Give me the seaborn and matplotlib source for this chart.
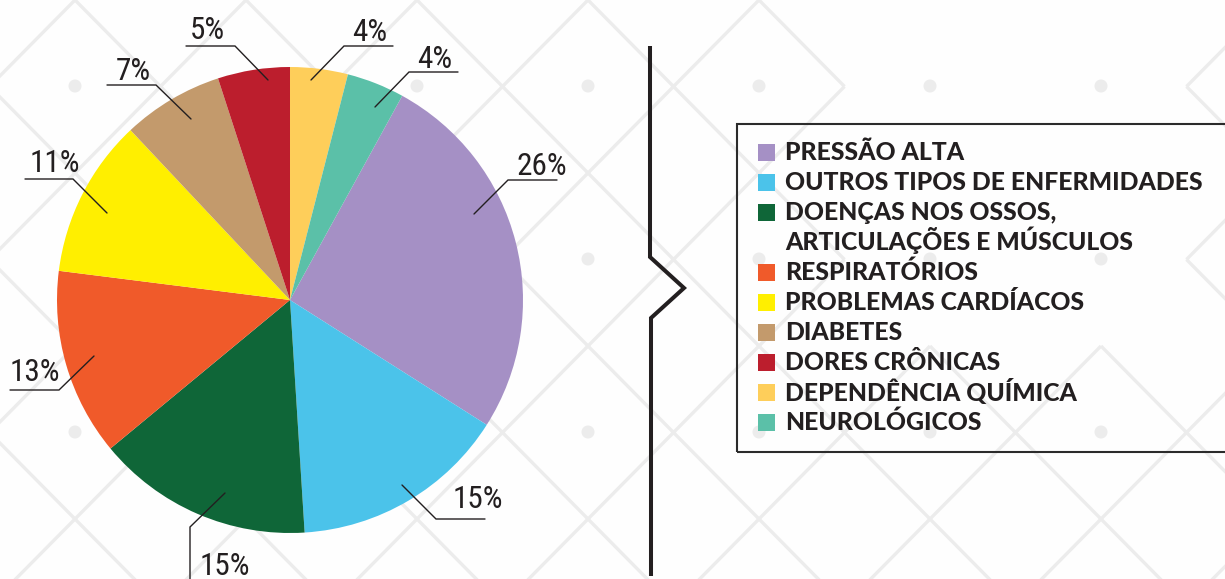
import matplotlib
matplotlib.use("Agg")
import matplotlib.pyplot as plt
from matplotlib.patches import Rectangle, Circle
from matplotlib.collections import LineCollection
import seaborn as sns

# -----------------------------
# Data (legend order)
# -----------------------------
categories = [
    "PRESSÃO ALTA",
    "OUTROS TIPOS DE ENFERMIDADES",
    "DOENÇAS NOS OSSOS,\nARTICULAÇÕES E MÚSCULOS",
    "RESPIRATÓRIOS",
    "PROBLEMAS CARDÍACOS",
    "DIABETES",
    "DORES CRÔNICAS",
    "DEPENDÊNCIA QUÍMICA",
    "NEUROLÓGICOS",
]
values = [26, 15, 15, 13, 11, 7, 5, 4, 4]
colors = ["#A590C5", "#4BC3EA", "#0F6638", "#F05A2A", "#FFEF00",
          "#C39A6C", "#BC1E2D", "#FECE5A", "#5BC0A8"]

# -----------------------------
# Layout (pixel coords, y from top)
# -----------------------------
W, H = 1225, 579
center = (290, 300)
radius = 233

# leader line: tip inside slice, elbow, end of line, text anchor (left x, baseline)
leaders = [
    ((474, 214), (508, 180), (557, 180), (516, 175)),
    ((402, 485), (436, 519), (485, 519), (453, 508)),
    ((225, 493), (190, 527), (190, 590), (200, 575)),
    ((94, 356), (59, 390), (10, 390), (10, 381)),
    ((107, 213), (73, 179), (25, 179), (30, 172)),
    ((191, 119), (156, 85), (107, 85), (116, 80)),
    ((268, 80), (235, 46), (186, 46), (190, 39)),
    ((311, 80), (344, 46), (393, 46), (352, 41)),
    ((375, 107), (409, 72), (458, 72), (417, 68)),
]


def Y(y):
    return H - y


sns.set_theme(style="white")
plt.rcParams["font.family"] = ["Lato", "DejaVu Sans"]
pct_fonts = ["Roboto Condensed", "Liberation Sans Narrow", "DejaVu Sans"]

fig = plt.figure(figsize=(W / 100, H / 100), dpi=100, facecolor="#fefefe")
ax = fig.add_axes([0, 0, 1, 1])
ax.set_facecolor("#fefefe")

# -----------------------------
# Background pattern (diamond lattice + dots)
# -----------------------------
pat = "#ececec"
sx, sy = 171, 173
segs = []
for i in range(-2, 10):
    for j in range(-1, 5):
        px, py = 75 + sx * i, sy * j
        for dx in (-sx / 2, sx / 2):
            for dy in (-sy / 2, sy / 2):
                mx, my = px + dx / 2, py + dy / 2
                if 845 < mx < 1188 and my < 346:
                    continue
                segs.append([(px, Y(py)), (px + dx, Y(py + dy))])
ax.add_collection(LineCollection(segs, colors=pat, linewidths=2.4, zorder=0))
for i in range(8):
    for j in range(3):
        ax.add_patch(Circle((75 + sx * i, Y(86 + sy * j)), 6.5, color=pat, lw=0, zorder=0))

# -----------------------------
# Pie
# -----------------------------
palette = sns.color_palette(colors)
start = 90 - (values[-1] + values[-2]) / sum(values) * 360
ax.pie(values, colors=palette, startangle=start, counterclock=False,
       center=(center[0], Y(center[1])), radius=radius,
       wedgeprops=dict(linewidth=0), frame=True)

# percentage labels with leader lines
for v, (tip, elbow, end, (tx, ty)) in zip(values, leaders):
    ax.plot([tip[0], elbow[0], end[0]], [Y(tip[1]), Y(elbow[1]), Y(end[1])],
            color="#231f20", lw=1.0, zorder=5, solid_joinstyle="miter")
    ax.text(tx, Y(ty), f"{v}%", ha="left", va="baseline", fontsize=22.5,
            family=pct_fonts, fontstretch="condensed", fontweight="normal",
            color="#231f20", zorder=6)

# -----------------------------
# Separator with chevron
# -----------------------------
sep_x = [650, 650, 684, 651, 651]
sep_y = [46, 257, 288, 318, 576]
ax.plot(sep_x, [Y(y) for y in sep_y], color="#231f20", lw=2.9,
        solid_joinstyle="miter", solid_capstyle="butt", zorder=3)

# -----------------------------
# Legend
# -----------------------------
ax.add_patch(Rectangle((737, Y(452)), 520, 328, fill=False, edgecolor="#2b2b2b", lw=1.5, zorder=3))
row = 0
for label, c in zip(categories, palette):
    yc = 152 + 30 * row
    ax.add_patch(Rectangle((758, Y(yc + 8.5)), 17, 17, color=c, lw=0, zorder=4))
    for line in label.split("\n"):
        yc = 152 + 30 * row
        ax.text(785, Y(yc + 8.5), line, ha="left", va="baseline", fontsize=17.8,
                family=["Lato", "DejaVu Sans"], fontweight="black",
                color="#231f20", zorder=4)
        row += 1

ax.set_xlim(0, W)
ax.set_ylim(0, H)
ax.set_aspect("equal")
ax.axis("off")

fig.savefig("out.png", dpi=100, facecolor=fig.get_facecolor())
